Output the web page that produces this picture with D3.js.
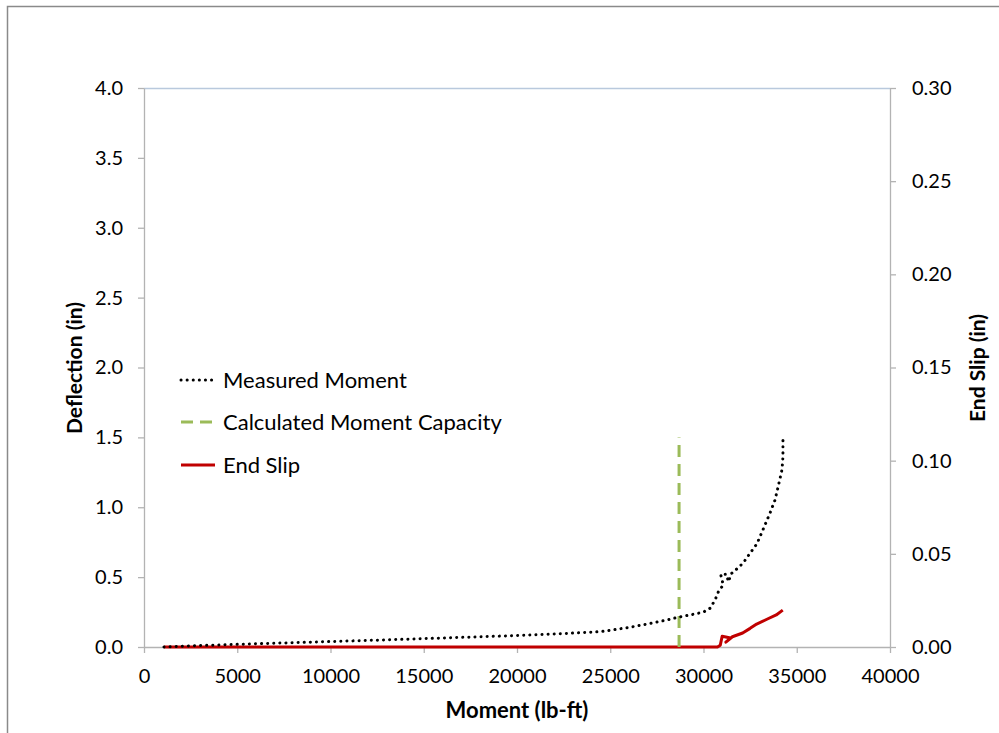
<!DOCTYPE html>
<html>
<head>
<meta charset="utf-8">
<script src="https://cdn.jsdelivr.net/npm/d3@7"></script>
<style>
  html, body { margin: 0; padding: 0; background: #fff; }
  svg { display: block; font-family: Lato, "Open Sans", "Liberation Sans", sans-serif; }
</style>
</head>
<body>
<svg id="chart" width="999" height="733"></svg>
<script>
// Measured moment vs mid-span deflection (left axis)
const measuredMoment = [1070, 2500, 5000, 7500, 10000, 12500, 15000, 17500, 20000, 22500, 24500, 26000, 27000, 28000, 28700, 29280, 30000, 30350, 30620, 30800, 31060, 30920, 31240, 31330, 31510, 31800, 32120, 32490, 32870, 33190, 33570, 33830, 34000, 34210, 34260, 34260];
const deflection     = [0.000, 0.008, 0.019, 0.029, 0.039, 0.049, 0.060, 0.071, 0.082, 0.096, 0.110, 0.140, 0.165, 0.192, 0.215, 0.229, 0.250, 0.277, 0.336, 0.396, 0.444, 0.520, 0.520, 0.467, 0.527, 0.560, 0.600, 0.670, 0.740, 0.840, 0.960, 1.050, 1.145, 1.270, 1.360, 1.480];

// Calculated moment capacity marker (vertical line)
const capacityMoment = [28690, 28690];
const capacityDeflection = [0, 1.5];

// End slip vs moment (right axis)
const slipMoment = [1070, 10000, 20000, 30000, 30750, 30900, 31000, 31450, 31200, 31550, 32100, 32500, 32850, 33400, 33900, 34250];
const endSlip    = [0.0000, 0.0000, 0.0000, 0.0000, 0.0000, 0.0010, 0.0058, 0.0048, 0.0026, 0.0055, 0.0075, 0.0100, 0.0123, 0.0149, 0.0172, 0.0198];

const xTicks = [0, 5000, 10000, 15000, 20000, 25000, 30000, 35000, 40000];
const yLeftTicks = [0, 0.5, 1.0, 1.5, 2.0, 2.5, 3.0, 3.5, 4.0];
const yRightTicks = [0, 0.05, 0.10, 0.15, 0.20, 0.25, 0.30];

const legendItems = ["Measured Moment", "Calculated Moment Capacity", "End Slip"];

const svg = d3.select("#chart");
const W = 999, H = 733;
const plot = { left: 144, right: 890, top: 88, bottom: 647 };

// outer frame
svg.append("path")
  .attr("d", `M7.5,${H} L7.5,6.5 L${W},6.5`)
  .attr("fill", "none").attr("stroke", "#8a8a8a").attr("stroke-width", 1.5);

const x = d3.scaleLinear().domain([0, 40000]).range([plot.left, plot.right]);
const yL = d3.scaleLinear().domain([0, 4.0]).range([plot.bottom, plot.top]);
const yR = d3.scaleLinear().domain([0, 0.30]).range([plot.bottom, plot.top]);

const axisColor = "#b3b3b3";
const fontSize = 20;

// top border of plot area
svg.append("line")
  .attr("x1", plot.left).attr("x2", plot.right)
  .attr("y1", plot.top + 0.5).attr("y2", plot.top + 0.5)
  .attr("stroke", "#b9c9dd").attr("stroke-width", 1.5);

function styleAxis(g) {
  g.select(".domain").attr("stroke", axisColor).attr("stroke-width", 1.3);
  g.selectAll(".tick line").attr("stroke", axisColor).attr("stroke-width", 1.3);
  g.selectAll(".tick text").attr("fill", "#000").attr("font-size", fontSize)
    .attr("font-family", "Lato, 'Open Sans', sans-serif");
}

// x axis
const gx = svg.append("g").attr("transform", `translate(0,${plot.bottom})`)
  .call(d3.axisBottom(x).tickValues(xTicks).tickFormat(d3.format("d")).tickSize(6).tickSizeOuter(0).tickPadding(16));
styleAxis(gx);

// left axis
const gyl = svg.append("g").attr("transform", `translate(${plot.left},0)`)
  .call(d3.axisLeft(yL).tickValues(yLeftTicks).tickFormat(d3.format(".1f")).tickSize(6).tickSizeOuter(0).tickPadding(15));
styleAxis(gyl);

// right axis
const gyr = svg.append("g").attr("transform", `translate(${plot.right},0)`)
  .call(d3.axisRight(yR).tickValues(yRightTicks).tickFormat(d3.format(".2f")).tickSize(6).tickSizeOuter(0).tickPadding(16));
styleAxis(gyr);

// axis titles
svg.append("text").attr("x", (plot.left + plot.right) / 2).attr("y", 718)
  .attr("text-anchor", "middle").attr("font-size", 22).attr("font-weight", "bold")
  .text("Moment (lb-ft)");
svg.append("text").attr("transform", `translate(82,368) rotate(-90)`)
  .attr("text-anchor", "middle").attr("font-size", 21).attr("font-weight", "bold")
  .text("Deflection (in)");
svg.append("text").attr("transform", `translate(985,368) rotate(-90)`)
  .attr("text-anchor", "middle").attr("font-size", 21).attr("font-weight", "bold")
  .text("End Slip (in)");

// series
const measured = measuredMoment.map((m, i) => [m, deflection[i]]);
const capacity = capacityMoment.map((m, i) => [m, capacityDeflection[i]]);
const slip = slipMoment.map((m, i) => [m, endSlip[i]]);

const lineL = d3.line().x(d => x(d[0])).y(d => yL(d[1]));
const lineR = d3.line().x(d => x(d[0])).y(d => yR(d[1]));

svg.append("path").datum(slip).attr("d", lineR)
  .attr("fill", "none").attr("stroke", "#c00000").attr("stroke-width", 3)
  .attr("stroke-linejoin", "round");

svg.append("path").datum(capacity).attr("d", lineL)
  .attr("fill", "none").attr("stroke", "#9bbb59").attr("stroke-width", 3)
  .attr("stroke-dasharray", "12,7");

svg.append("path").datum(measured).attr("d", lineL)
  .attr("fill", "none").attr("stroke", "#000").attr("stroke-width", 3)
  .attr("stroke-dasharray", "0.1,6").attr("stroke-linecap", "round")
  .attr("stroke-linejoin", "round");

// legend
const legendStyles = [
  { stroke: "#000", width: 3, dash: "0.1,6", cap: "round" },
  { stroke: "#9bbb59", width: 3, dash: "12,7", cap: "butt" },
  { stroke: "#c00000", width: 3, dash: null, cap: "butt" }
];
const legendY = [380, 422, 465];
legendItems.forEach((label, i) => {
  const s = legendStyles[i];
  svg.append("line")
    .attr("x1", 181).attr("x2", 215)
    .attr("y1", legendY[i]).attr("y2", legendY[i])
    .attr("stroke", s.stroke).attr("stroke-width", s.width)
    .attr("stroke-dasharray", s.dash).attr("stroke-linecap", s.cap);
  svg.append("text").attr("x", 223).attr("y", legendY[i]).attr("dy", "0.35em")
    .attr("font-size", 22).attr("fill", "#000").text(label);
});
</script>
</body>
</html>
